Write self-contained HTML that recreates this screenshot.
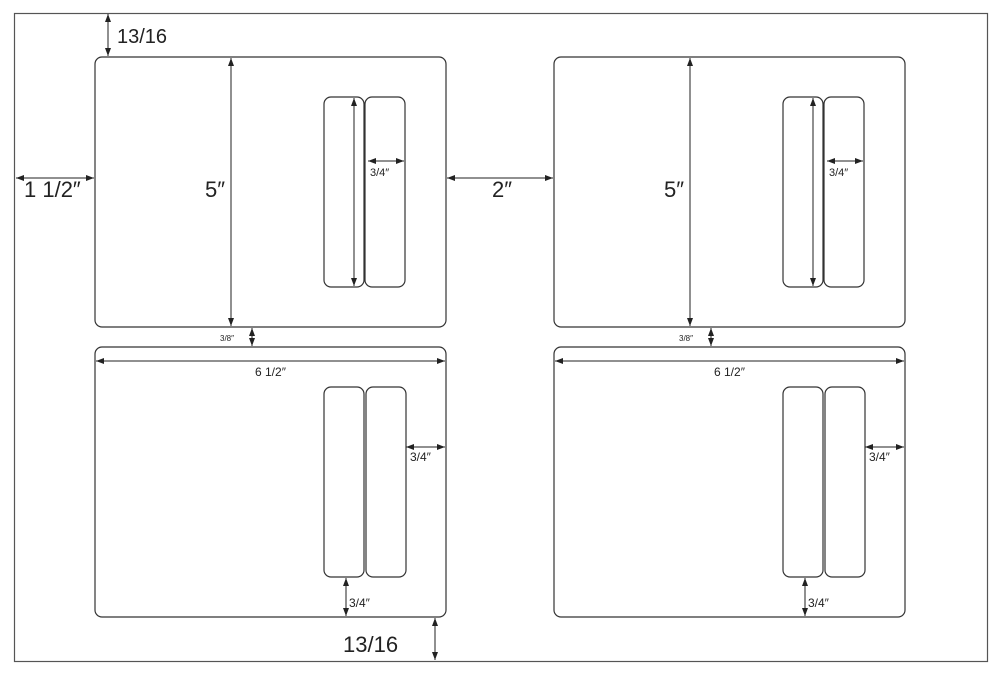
<!DOCTYPE html>
<html><head><style>body{margin:0;background:#fff}svg{display:block}text{font-family:"Liberation Sans",sans-serif;fill:#222}</style></head><body>
<svg width="1000" height="675" viewBox="0 0 1000 675" xmlns="http://www.w3.org/2000/svg">
<defs>
<marker id="a" viewBox="0 0 8 6" refX="8" refY="3" markerWidth="8" markerHeight="6" orient="auto-start-reverse" markerUnits="userSpaceOnUse"><path d="M0,0L8,3L0,6z" fill="#222"/></marker>
<g id="top">
<rect x="95" y="57" width="351" height="270" rx="7" fill="none" stroke="#333" stroke-width="1.2"/>
<rect x="324" y="97" width="40" height="190" rx="7" fill="none" stroke="#333" stroke-width="1.2"/>
<rect x="365" y="97" width="40" height="190" rx="7" fill="none" stroke="#333" stroke-width="1.2"/>
<line x1="231" y1="58" x2="231" y2="326" stroke="#222" marker-start="url(#a)" marker-end="url(#a)"/>
<text x="205" y="197" font-size="22">5″</text>
<line x1="354" y1="98" x2="354" y2="286" stroke="#222" marker-start="url(#a)" marker-end="url(#a)"/>
<line x1="368" y1="161" x2="404" y2="161" stroke="#222" marker-start="url(#a)" marker-end="url(#a)"/>
<text x="370" y="176" font-size="11">3/4″</text>
<line x1="252" y1="328" x2="252" y2="346" stroke="#222" marker-start="url(#a)" marker-end="url(#a)"/>
<text x="220" y="341" font-size="8">3/8″</text>
</g>
<g id="bot">
<rect x="95" y="347" width="351" height="270" rx="7" fill="none" stroke="#333" stroke-width="1.2"/>
<rect x="324" y="387" width="40" height="190" rx="7" fill="none" stroke="#333" stroke-width="1.2"/>
<rect x="366" y="387" width="40" height="190" rx="7" fill="none" stroke="#333" stroke-width="1.2"/>
<line x1="96" y1="361" x2="445" y2="361" stroke="#222" marker-start="url(#a)" marker-end="url(#a)"/>
<text x="255" y="376" font-size="12">6 1/2″</text>
<line x1="406" y1="447" x2="445" y2="447" stroke="#222" marker-start="url(#a)" marker-end="url(#a)"/>
<text x="410" y="461" font-size="12">3/4″</text>
<line x1="346" y1="578" x2="346" y2="616" stroke="#222" marker-start="url(#a)" marker-end="url(#a)"/>
<text x="349" y="607" font-size="12">3/4″</text>
</g>
</defs>
<rect x="14.5" y="13.5" width="973" height="648" fill="none" stroke="#555" stroke-width="1.2"/>
<use href="#top"/><use href="#bot"/>
<use href="#top" transform="translate(459,0)"/><use href="#bot" transform="translate(459,0)"/>
<line x1="108" y1="14" x2="108" y2="56" stroke="#222" marker-start="url(#a)" marker-end="url(#a)"/>
<text x="117" y="43" font-size="20">13/16</text>
<line x1="16" y1="178" x2="94" y2="178" stroke="#222" marker-start="url(#a)" marker-end="url(#a)"/>
<text x="24" y="197" font-size="22">1 1/2″</text>
<line x1="447" y1="178" x2="553" y2="178" stroke="#222" marker-start="url(#a)" marker-end="url(#a)"/>
<text x="492" y="197" font-size="22">2″</text>
<line x1="435" y1="618" x2="435" y2="660" stroke="#222" marker-start="url(#a)" marker-end="url(#a)"/>
<text x="343" y="652" font-size="22">13/16</text>
</svg>
</body></html>
